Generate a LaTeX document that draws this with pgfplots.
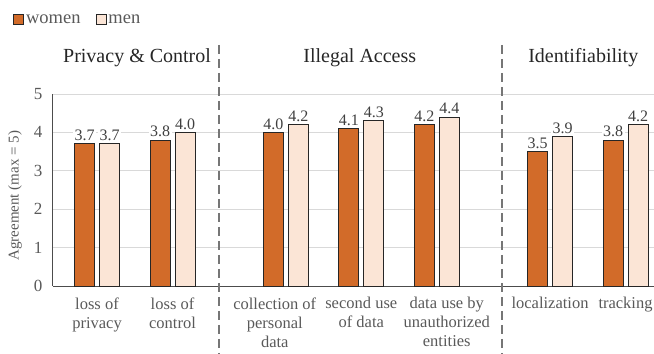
\documentclass[border=0pt]{standalone}
\usepackage{fontspec}
\setmainfont{Liberation Serif}
\usepackage{pgfplots}
\pgfplotsset{compat=1.18}
\usetikzlibrary{calc}
\definecolor{women}{HTML}{D26B29}
\definecolor{men}{HTML}{FBE5D6}
\definecolor{txt}{HTML}{595959}
\definecolor{lbl}{HTML}{404040}
\definecolor{gridc}{HTML}{D9D9D9}
\definecolor{sep}{HTML}{767676}
\begin{document}
\begin{tikzpicture}
\begin{axis}[
  scale only axis, width=601bp, height=192bp,
  xmin=-0.583, xmax=7.377, ymin=0, ymax=5,
  axis x line*=bottom, axis y line*=left,
  axis line style={draw=black!70, line width=1bp},
  major tick length=0,
  ytick={0,1,2,3,4,5},
  ymajorgrids, grid style={draw=gridc, line width=0.9bp},
  xtick={0,1,2.354,3.5,4.632,6,7},
  xticklabels={loss of\\privacy, loss of\\control, collection of\\personal\\data, second use\\of data, data use by\\unauthorized\\entities, localization, tracking},
  xticklabel style={align=center, text=txt, font=\fontsize{16.5bp}{19bp}\selectfont, yshift=-8bp},
  yticklabel style={text=txt, font=\fontsize{17bp}{20bp}\selectfont, xshift=-7bp},
  /pgf/number format/assume math mode=true,
  ylabel={Agreement (max = 5)},
  ylabel style={at={(axis description cs:-0.063,0.47)}, anchor=center, text=txt, font=\fontsize{15bp}{17bp}\selectfont},
  ybar=5bp, bar width=20bp,
  clip=false,
  nodes near coords={\pgfmathprintnumber[fixed,fixed zerofill,precision=1]{\pgfplotspointmeta}},
  every node near coord/.append style={font=\fontsize{16bp}{18bp}\selectfont, text=lbl, fill=white, inner sep=1.5bp, yshift=1bp},
  legend columns=2,
  legend style={at={(axis description cs:-0.0716,1.432)}, anchor=north west, draw=none, fill=none,
     font=\fontsize{18.5bp}{21bp}\selectfont, text=txt,
     /tikz/every even column/.append style={column sep=13bp}},
]
\addplot[fill=women, draw=black!85, line width=0.9bp,
  legend image code/.code={\draw[fill=women, draw=black!85, line width=0.9bp] (0bp,-4.5bp) rectangle (10bp,5.5bp);}]
  coordinates {(0,3.7) (1,3.8) (2.5,4.0) (3.5,4.1) (4.5,4.2) (6,3.5) (7,3.8)};
\addplot[fill=men, draw=black!85, line width=0.9bp,
  legend image code/.code={\draw[fill=men, draw=black!85, line width=0.9bp] (0bp,-4.5bp) rectangle (10bp,5.5bp);}]
  coordinates {(0,3.7) (1,4.0) (2.5,4.2) (3.5,4.3) (4.5,4.4) (6,3.9) (7,4.2)};
\legend{women, men}
\draw[sep, line width=2bp, dash pattern=on 9bp off 5bp] (axis cs:1.616,6.28) -- (axis cs:1.616,-1.8);
\draw[sep, line width=2bp, dash pattern=on 9bp off 5bp] (axis cs:5.364,6.28) -- (axis cs:5.364,-1.8);
\node[font=\fontsize{20bp}{24bp}\selectfont, text=black!85] at (axis cs:0.53,5.95) {Privacy \& Control};
\node[font=\fontsize{20bp}{24bp}\selectfont, text=black!85] at (axis cs:3.48,5.95) {Illegal Access};
\node[font=\fontsize{20bp}{24bp}\selectfont, text=black!85] at (axis cs:6.44,5.95) {Identifiability};
\coordinate (sw) at (rel axis cs:0,0);
\coordinate (ne) at (rel axis cs:1,1);
\end{axis}
\pgfresetboundingbox
\useasboundingbox ($(sw)+(-53bp,-68bp)$) rectangle ($(ne)+(0bp,94bp)$);
\end{tikzpicture}
\end{document}
